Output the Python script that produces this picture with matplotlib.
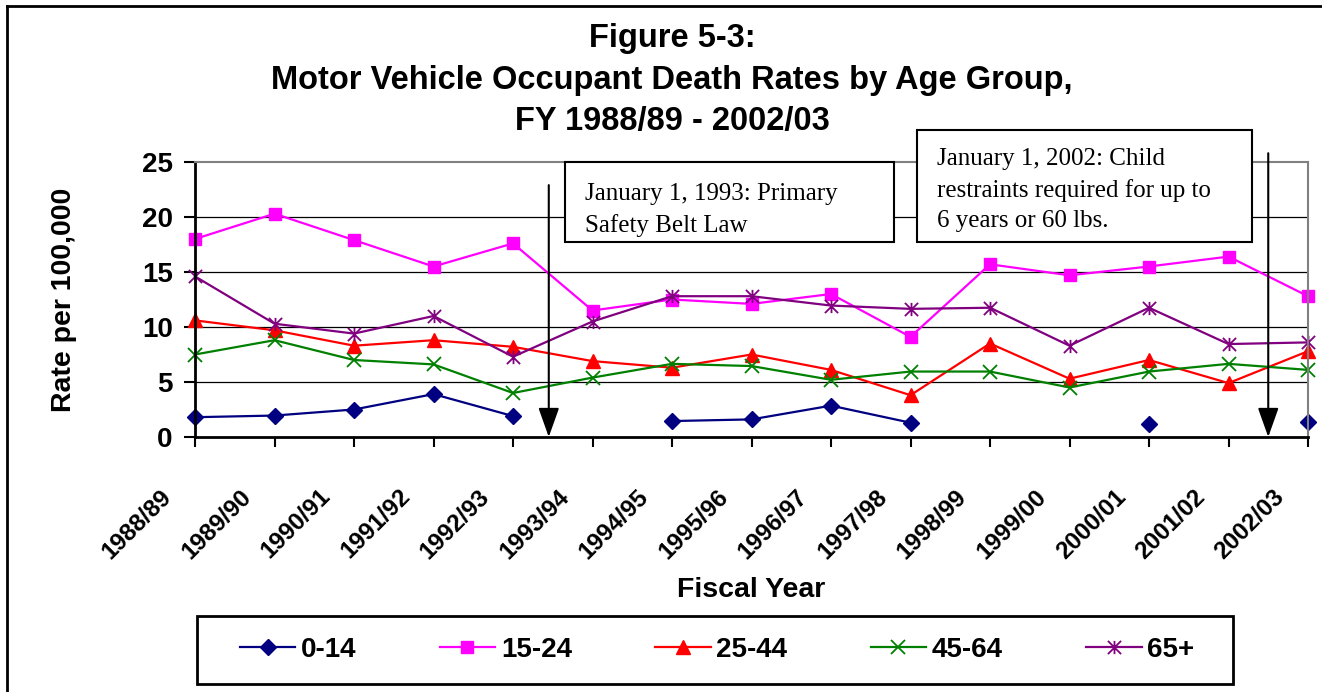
# Figure 5-3: motor vehicle occupant death rates by age group, FY 1988/89 - 2002/03

import numpy as np
import matplotlib
matplotlib.use('Agg')
import matplotlib.pyplot as plt
import matplotlib.transforms as mtrans
from matplotlib.patches import Rectangle
from matplotlib.lines import Line2D
from matplotlib.path import Path

nan = np.nan

fiscal_years = ['1988/89', '1989/90', '1990/91', '1991/92', '1992/93', '1993/94', '1994/95',
                '1995/96', '1996/97', '1997/98', '1998/99', '1999/00', '2000/01', '2001/02', '2002/03']

age_0_14 = [1.8, 1.95, 2.5, 3.9, 1.9, nan, 1.45, 1.6, 2.85, 1.3, nan, nan, 1.2, nan, 1.4]
age_15_24 = [18.0, 20.3, 17.9, 15.5, 17.6, 11.5, 12.5, 12.1, 13.0, 9.1, 15.7, 14.7, 15.5, 16.4, 12.8]
age_25_44 = [10.6, 9.7, 8.3, 8.8, 8.2, 6.9, 6.3, 7.5, 6.1, 3.8, 8.5, 5.3, 7.0, 4.9, 7.8]
age_45_64 = [7.5, 8.8, 7.0, 6.6, 4.0, 5.4, 6.65, 6.45, 5.2, 5.95, 5.95, 4.5, 5.95, 6.65, 6.1]
age_65_plus = [14.6, 10.3, 9.4, 11.0, 7.3, 10.5, 12.8, 12.8, 11.95, 11.65, 11.75, 8.3, 11.75, 8.45, 8.6]

group_names = ['0-14', '15-24', '25-44', '45-64', '65+']

# asterisk marker like excel's star (x plus vertical bar)
star = Path([(0, -1), (0, 1), (-1, -1), (1, 1), (-1, 1), (1, -1)],
            [Path.MOVETO, Path.LINETO, Path.MOVETO, Path.LINETO, Path.MOVETO, Path.LINETO])

styles = [
    dict(color='#000080', marker='D', markersize=8),
    dict(color='#FF00FF', marker='s', markersize=8.5),
    dict(color='#FF0000', marker='^', markersize=9.5),
    dict(color='#008000', marker='x', markersize=9.5, markeredgewidth=1.3),
    dict(color='#800080', marker=star, markersize=9.5, markeredgewidth=1.3),
]

sans = 'Liberation Sans'
serif = 'Liberation Serif'

W, H = 1322, 692
fig = plt.figure(figsize=(W / 100, H / 100), dpi=100)
ax = fig.add_axes([195 / W, 1 - 437 / H, (1308 - 195) / W, (437 - 162) / H])

x = np.arange(len(fiscal_years))
series = [age_0_14, age_15_24, age_25_44, age_45_64, age_65_plus]
handles = []
for vals, name, st in zip(series, group_names, styles):
    h, = ax.plot(x, vals, linewidth=1.6, label=name, clip_on=False, **st)
    handles.append(h)

ax.set_xlim(0, len(fiscal_years) - 1)
ax.set_ylim(0, 25)
ax.set_yticks(range(0, 26, 5))
ax.set_xticks(x)
ax.set_xticklabels([])
for v in range(5, 25, 5):
    ax.axhline(v, color='black', linewidth=0.9, zorder=0)

ax.spines['left'].set_linewidth(2)
ax.spines['bottom'].set_linewidth(2)
ax.spines['top'].set_color('#808080')
ax.spines['right'].set_color('#808080')
ax.spines['top'].set_linewidth(1.5)
ax.spines['right'].set_linewidth(1.5)
ax.tick_params(axis='y', direction='out', length=8, width=1.5, pad=8)
ax.tick_params(axis='x', direction='out', length=7, width=1.5)
for lab in ax.get_yticklabels():
    lab.set_fontfamily(sans)
    lab.set_fontweight('bold')
    lab.set_fontsize(20)

# rotated category labels, ending a little left of and below each tick
offset = mtrans.ScaledTranslation(-0.27, -0.56, fig.dpi_scale_trans)
for i, lab in enumerate(fiscal_years):
    ax.text(i, 0, lab, transform=ax.get_xaxis_transform() + offset, rotation=45,
            rotation_mode='anchor', ha='right', va='center', fontsize=17.5,
            fontweight='bold', family=sans)

fig.text(751 / W, 1 - 590 / H, 'Fiscal Year', ha='center', va='center', fontsize=20.5,
         fontweight='bold', family=sans)
fig.text(64 / W, 1 - 300 / H, 'Rate per 100,000', ha='center', va='center', rotation=90,
         fontsize=20.5, fontweight='bold', family=sans)

fig.text(672 / W, 1 - 80 / H, 'Figure 5-3:\nMotor Vehicle Occupant Death Rates by Age Group,\nFY 1988/89 - 2002/03',
         ha='center', va='center', fontsize=23.5, fontweight='bold', family=sans, linespacing=1.42)

# law change arrows
ax.annotate('', xy=(4.45, 0), xytext=(4.45, 22.9), annotation_clip=False,
            arrowprops=dict(arrowstyle='-|>,head_length=0.9,head_width=0.32', color='black',
                            lw=1.5, mutation_scale=20, shrinkA=0, shrinkB=0))
ax.annotate('', xy=(13.5, 0), xytext=(13.5, 25.8), annotation_clip=False,
            arrowprops=dict(arrowstyle='-|>,head_length=0.9,head_width=0.32', color='black',
                            lw=1.5, mutation_scale=20, shrinkA=0, shrinkB=0))

# annotation boxes (text clipped a little inside the box like the original)
notes = [
    ((565, 162, 894, 242), 'January 1, 1993: Primary\nSafety Belt Law', (585, 183)),
    ((917, 130, 1252, 242), 'January 1, 2002: Child\nrestraints required for up to\n6 years or 60 lbs.', (937, 148)),
]
for (x0, y0, x1, y1), txt, (tx, ty) in notes:
    box = Rectangle((x0 / W, 1 - y1 / H), (x1 - x0) / W, (y1 - y0) / H, transform=fig.transFigure,
                    facecolor='white', edgecolor='black', linewidth=1.5, zorder=5)
    fig.add_artist(box)
    inner = Rectangle((x0 / W, 1 - (y1 - 5) / H), (x1 - x0) / W, (y1 - y0 - 5) / H,
                      transform=fig.transFigure)
    t = fig.text(tx / W, 1 - ty / H, txt, ha='left', va='top', fontsize=18, family=serif,
                 linespacing=1.5, zorder=6)
    t.set_clip_path(inner)

# legend: entries centred in a separately drawn frame
leg = fig.legend(handles=handles, loc='center', bbox_to_anchor=(717 / W, 1 - 650 / H),
                 ncol=5, frameon=False, prop=dict(family=sans, weight='bold', size=20),
                 handlelength=2.0, handletextpad=0.2, columnspacing=3.0, borderpad=0,
                 borderaxespad=0, numpoints=1)
fig.add_artist(Rectangle((197 / W, 1 - 684 / H), (1233 - 197) / W, 68 / H, transform=fig.transFigure,
                         facecolor='none', edgecolor='black', linewidth=2))

# chart area border (left and top edges visible)
fig.add_artist(Line2D([7 / W, 7 / W], [0, 1 - 6 / H], color='black', linewidth=2, transform=fig.transFigure))
fig.add_artist(Line2D([7 / W, 1], [1 - 6 / H, 1 - 6 / H], color='black', linewidth=2, transform=fig.transFigure))

fig.savefig('out.png', dpi=100)
